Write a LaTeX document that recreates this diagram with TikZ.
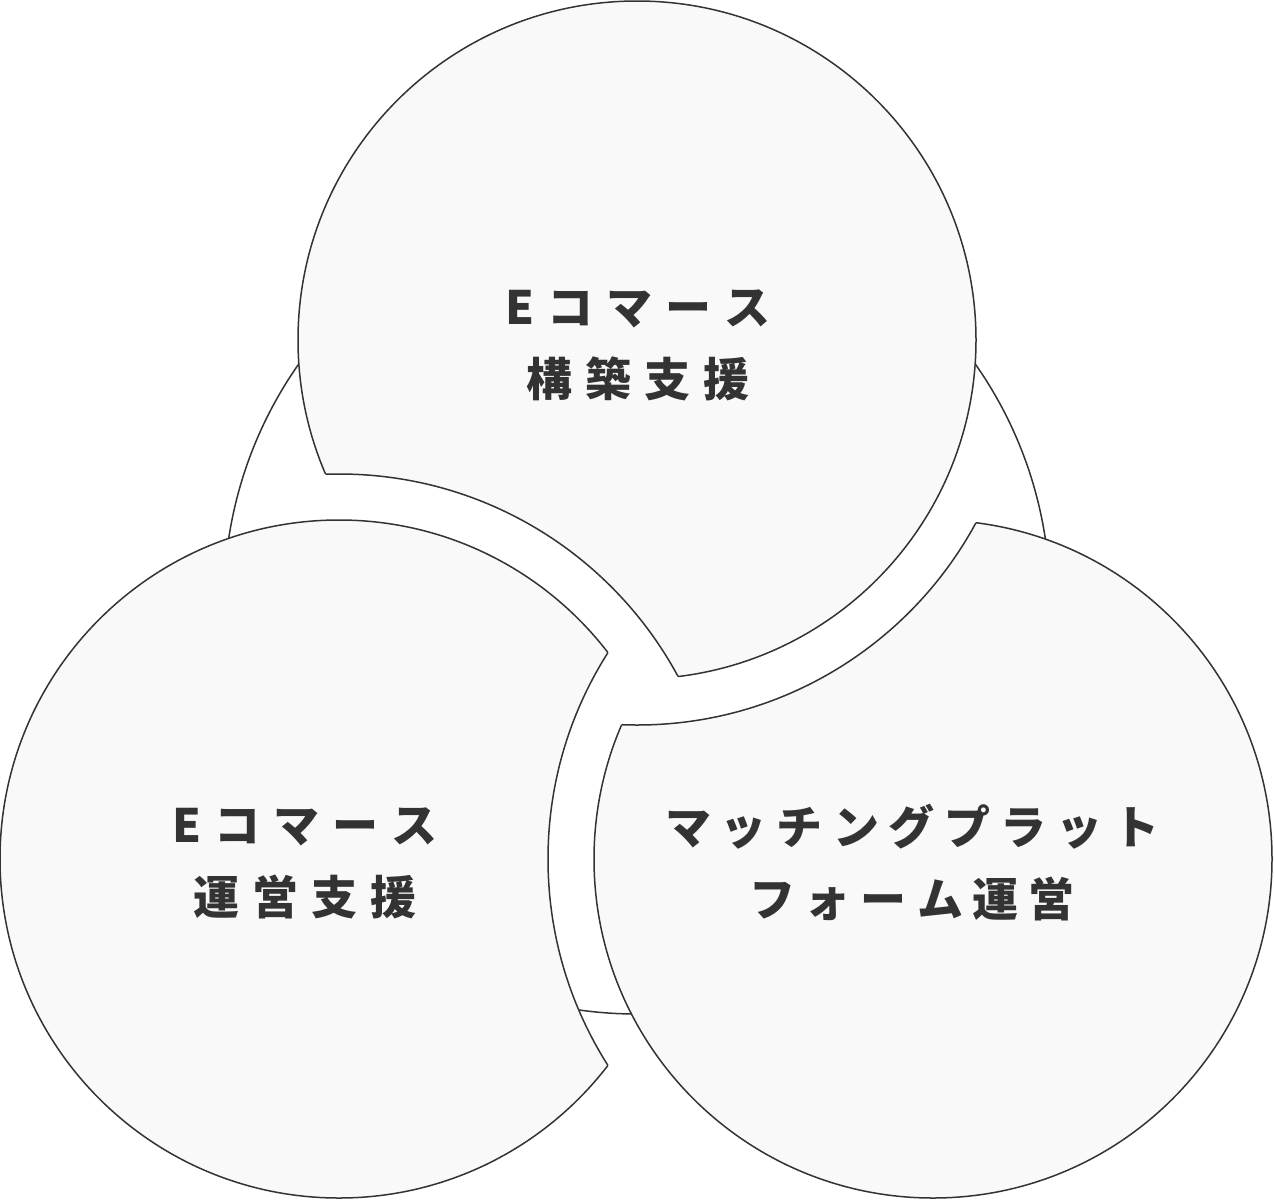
\documentclass[tikz,border=0pt]{standalone}
\usepackage{fontspec}
\newfontfamily\jp{Noto Sans CJK JP}
\definecolor{ink}{HTML}{333333}
\definecolor{disk}{HTML}{F9F9F9}
\newcommand{\ls}{\kern13pt}
\newcommand{\lsc}{\kern10pt}
\begin{document}
\begin{tikzpicture}[x=1pt,y=-1pt,
  outline/.style={draw=ink,line width=1.5pt},
  cutline/.style={draw=ink,line width=1.5pt},
  diskfill/.style={fill=disk},
  label/.style={text=ink,font=\jp\bfseries\fontsize{46}{72}\selectfont,align=center,inner sep=0pt}]
\useasboundingbox (0,0) rectangle (1274,1200);
\fill[white] (0,0) rectangle (1274,1200);
\coordinate (O) at (637,601);
\coordinate (A) at (637,340);
\coordinate (B) at (339,859);
\coordinate (C) at (933,859);
\def\R{339}
\def\Rp{385}
% background circle
\draw[outline,fill=white] (O) circle (413);
% top disc cut by B+
\begin{scope}
  \clip (B) circle (\Rp) (-50,1300) -- (1350,1300) -- (1350,-100) -- (-50,-100) -- cycle;
  \filldraw[outline,diskfill] (A) circle (\R);
\end{scope}
\begin{scope}
  \clip (A) circle (\R);
  \draw[cutline] (B) circle (\Rp);
\end{scope}
% left disc cut by C+
\begin{scope}
  \clip (C) circle (\Rp) (-50,1300) -- (1350,1300) -- (1350,-100) -- (-50,-100) -- cycle;
  \filldraw[outline,diskfill] (B) circle (\R);
\end{scope}
\begin{scope}
  \clip (B) circle (\R);
  \draw[cutline] (C) circle (\Rp);
\end{scope}
% right disc cut by A+
\begin{scope}
  \clip (A) circle (\Rp) (-50,1300) -- (1350,1300) -- (1350,-100) -- (-50,-100) -- cycle;
  \filldraw[outline,diskfill] (C) circle (\R);
\end{scope}
\begin{scope}
  \clip (C) circle (\R);
  \draw[cutline] (A) circle (\Rp);
\end{scope}
% labels
\node[label] (ta) at (638,345) {E\ls コ\ls マ\ls ー\ls ス\\構\ls 築\ls 支\ls 援};
\node[label] (tb) at (305,863) {E\ls コ\ls マ\ls ー\ls ス\\運\ls 営\ls 支\ls 援};
\node[label] (tc) at (912,863) {マ\lsc ッ\lsc チ\lsc ン\lsc グ\lsc プ\lsc ラ\lsc ッ\lsc ト\\フ\lsc ォ\lsc ー\lsc ム\lsc 運\lsc 営};
\end{tikzpicture}
\end{document}
